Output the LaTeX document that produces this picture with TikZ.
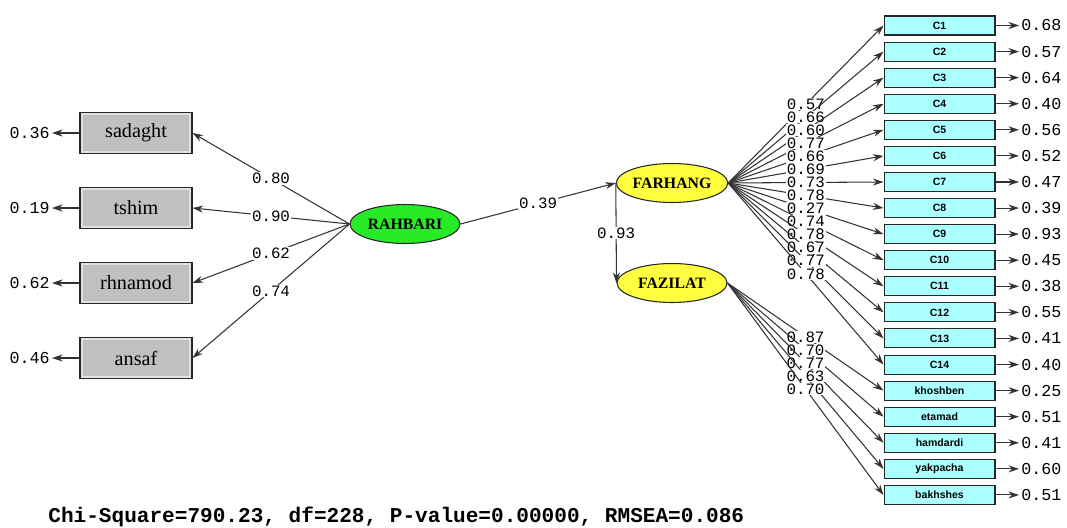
\documentclass[tikz,border=0pt]{standalone}
\usepackage{fontspec}
\setmainfont{Liberation Serif}
\setsansfont{Liberation Sans}
\setmonofont{Liberation Mono}
\usepackage{xcolor}
\usetikzlibrary{arrows.meta,shapes.geometric}

\definecolor{boxgray}{RGB}{192,192,192}
\definecolor{boxcyan}{RGB}{170,255,255}
\definecolor{latgreen}{RGB}{40,235,40}
\definecolor{latyellow}{RGB}{255,255,64}

\tikzset{
  obsleft/.style={draw=black!85, fill=boxgray, minimum width=2.24cm, minimum height=0.82cm, inner sep=0pt,
    font=\fontsize{11.5}{12}\selectfont,
    path picture={\draw[white, line width=3pt, opacity=0.55] (path picture bounding box.south west) rectangle (path picture bounding box.north east);}},
  obsright/.style={draw=black!85, fill=boxcyan, minimum width=2.22cm, minimum height=0.38cm, inner sep=0pt, font=\sffamily\bfseries\fontsize{6}{7}\selectfont},
  latent/.style={ellipse, draw=black!85, minimum width=2.2cm, minimum height=0.78cm, inner sep=0pt, font=\bfseries\fontsize{9}{10}\selectfont},
  coef/.style={fill=white, inner sep=0.5pt, text height=1.3ex, text depth=0pt, font=\ttfamily\fontsize{9}{10}\selectfont},
  errlab/.style={inner sep=1pt, font=\ttfamily\fontsize{9.5}{10}\selectfont}
}

\begin{document}
\begin{tikzpicture}[x=0.02cm, y=-0.02cm, ->, >={Stealth[length=6pt,width=4pt]}, semithick, draw=black!80]
  \useasboundingbox (0,0) rectangle (1067,527);

  % latent variables
  \node[latent, fill=latgreen] (rah) at (405,224) {RAHBARI};
  \node[latent, fill=latyellow] (far) at (672,183) {FARHANG};
  \node[latent, fill=latyellow] (faz) at (672,283) {FAZILAT};

  % leadership indicators
  \foreach \name/\txt/\y/\ld/\e in {sad/sadaght/133/0.80/0.36, tsh/tshim/208/0.90/0.19,
      rhn/rhnamod/283/0.62/0.62, ans/ansaf/358/0.74/0.46}{
    \node[obsleft] (\name) at (136,\y) {\txt};
    \node[errlab, anchor=east] (\name e) at (52,\y) {\e};
    \draw (\name.west) -- (\name e.east);
    \path (rah.west) edge node[coef] {\ld} (\name.east);
  }

  % culture and virtue indicators
  \foreach \i/\txt/\src/\ld/\e in {1/C1/far/0.57/0.68, 2/C2/far/0.66/0.57, 3/C3/far/0.60/0.64,
      4/C4/far/0.77/0.40, 5/C5/far/0.66/0.56, 6/C6/far/0.69/0.52, 7/C7/far/0.73/0.47,
      8/C8/far/0.78/0.39, 9/C9/far/0.27/0.93, 10/C10/far/0.74/0.45, 11/C11/far/0.78/0.38,
      12/C12/far/0.67/0.55, 13/C13/far/0.77/0.41, 14/C14/far/0.78/0.40,
      15/khoshben/faz/0.87/0.25, 16/etamad/faz/0.70/0.51, 17/hamdardi/faz/0.77/0.41,
      18/yakpacha/faz/0.63/0.60, 19/bakhshes/faz/0.70/0.51}{
    \node[obsright] (c\i) at (939.5,{25.5+26.08*(\i-1)}) {\txt};
    \node[errlab, anchor=west] (c\i e) at (1019,{25.5+26.08*(\i-1)}) {\e};
    \draw (c\i.east) -- (c\i e.west);
    \path (\src.east) edge node[coef] {\ld} (c\i.west);
  }

  % structural paths
  \path
  (rah.east) edge node[coef] {0.39} (far.west)
  (far.west) edge node[coef] {0.93} (faz.west);

  \node[anchor=base west, font=\ttfamily\bfseries\fontsize{12}{13}\selectfont] (fit) at (42,522)
    {Chi-Square=790.23, df=228, P-value=0.00000, RMSEA=0.086};
\end{tikzpicture}
\end{document}
